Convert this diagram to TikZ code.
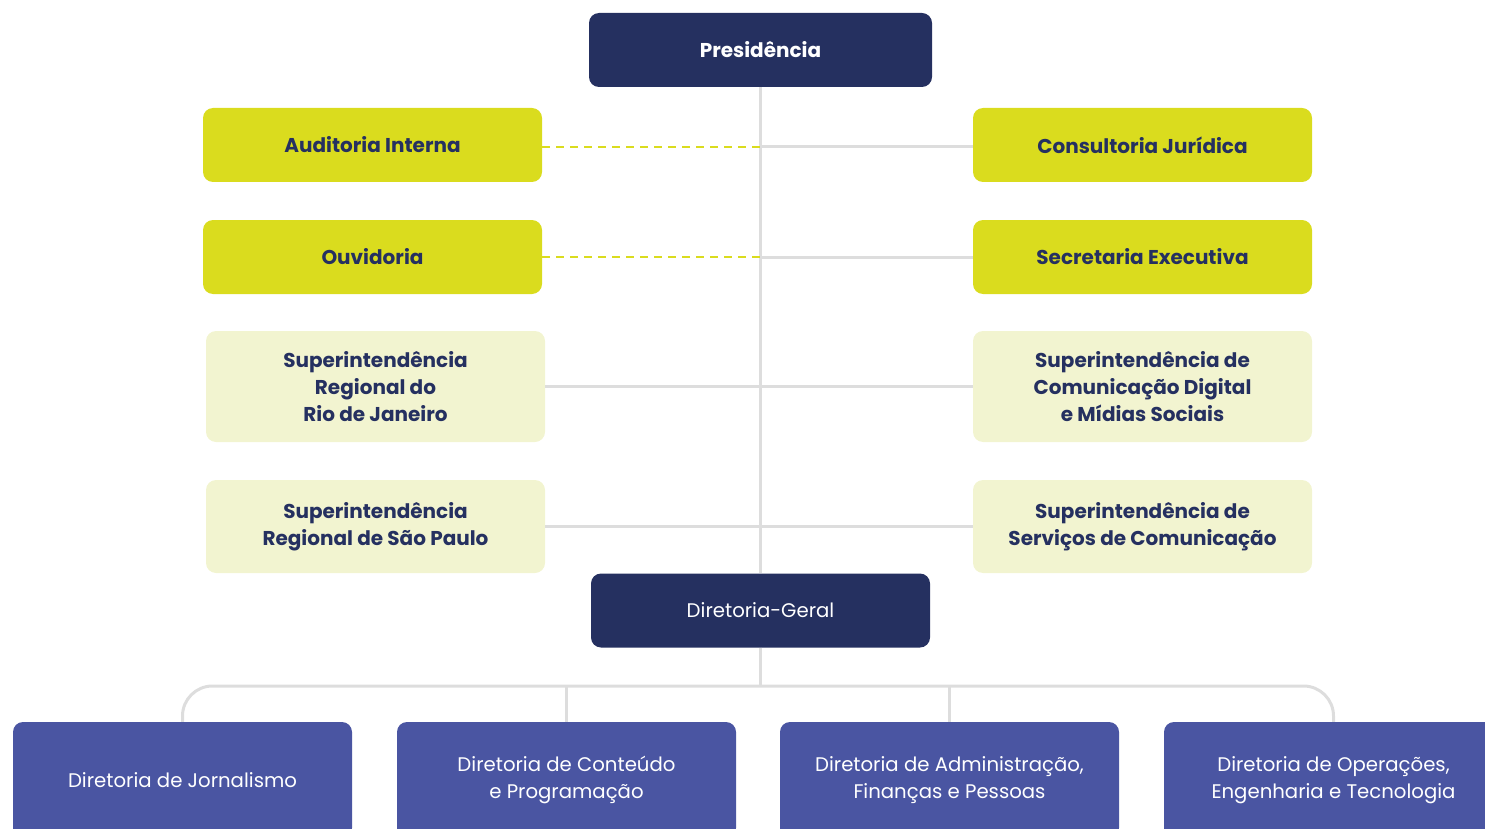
\documentclass[tikz,border=0pt]{standalone}
\usepackage{fontspec}
\setmainfont{Poppins}
\usetikzlibrary{positioning}
\definecolor{navy}{RGB}{37,48,96}
\definecolor{lime}{RGB}{218,220,30}
\definecolor{cream}{RGB}{242,244,208}
\definecolor{dirblue}{RGB}{74,85,162}
\definecolor{linegray}{RGB}{221,221,221}

\begin{document}
\begin{tikzpicture}[x=1pt,y=-1pt,
    box/.style={rounded corners=10pt, minimum width=339pt, align=center, inner sep=0pt},
    head/.style={box, fill=navy, text=white, minimum height=74pt},
    staff/.style={box, fill=lime, text=navy, minimum height=74pt, font=\bfseries\fontsize{20}{27}\selectfont},
    supt/.style={box, fill=cream, text=navy, font=\bfseries\fontsize{20}{27}\selectfont},
    dir/.style={box, fill=dirblue, text=white, minimum height=116pt, font=\fontsize{19.7}{27}\selectfont},
    link/.style={draw=linegray, line width=3pt},
    dashlink/.style={draw=lime, line width=2pt, dash pattern=on 8pt off 6pt}]
    \clip (0,0) rectangle (1485,829);

    \node[head, minimum width=343pt, font=\bfseries\fontsize{20}{27}\selectfont] (pres) at (760.5,50) {Presidência};
    \node[head, font=\fontsize{19.7}{27}\selectfont] (dg) at (760.5,610.5) {Diretoria-Geral};

    \node[staff] (audit) at (372.5,145) {Auditoria Interna};
    \node[staff] (cons) at (1142.5,145) {Consultoria Jurídica};
    \node[staff] (ouv) at (372.5,257) {Ouvidoria};
    \node[staff] (sec) at (1142.5,257) {Secretaria Executiva};

    \node[supt, minimum height=111pt] (rj) at (375.5,386.5) {Superintendência\\Regional do\\Rio de Janeiro};
    \node[supt, minimum height=111pt] (digital) at (1142.5,386.5) {Superintendência de\\Comunicação Digital\\e Mídias Sociais};
    \node[supt, minimum height=93pt] (sp) at (375.5,526.5) {Superintendência\\Regional de São Paulo};
    \node[supt, minimum height=93pt] (serv) at (1142.5,526.5) {Superintendência de\\Serviços de Comunicação};

    \node[dir] (jor) at (182.5,780) {Diretoria de Jornalismo};
    \node[dir] (cont) at (566.5,780) {Diretoria de Conteúdo\\e Programação};
    \node[dir] (adm) at (949.5,780) {Diretoria de Administração,\\Finanças e Pessoas};
    \node[dir] (ops) at (1333.5,780) {Diretoria de Operações,\\Engenharia e Tecnologia};

    \draw[link] (pres.south) -- (dg.north);
    \draw[link] ([yshift=-2pt]cons.west) -- ([yshift=-2pt]cons.west -| pres.south);
    \foreach \n in {sec,digital,serv}{
        \draw[link] (\n.west) -- (\n.west -| pres.south);
      }
    \foreach \n in {rj,sp}{
        \draw[link] (\n.east) -- (\n.east -| pres.south);
      }
    \draw[dashlink] ([yshift=-2pt]audit.east) -- ([yshift=-2pt]audit.east -| pres.south);
    \draw[dashlink] (ouv.east) -- (ouv.east -| pres.south);

    \coordinate (bus) at (760.5,686);
    \draw[link] (dg.south) -- (bus);
    \draw[link, rounded corners=30pt] (jor.north) |- (bus) -| (ops.north);
    \draw[link] (cont.north) -- (cont.north |- bus);
    \draw[link] (adm.north) -- (adm.north |- bus);
  \end{tikzpicture}
\end{document}
